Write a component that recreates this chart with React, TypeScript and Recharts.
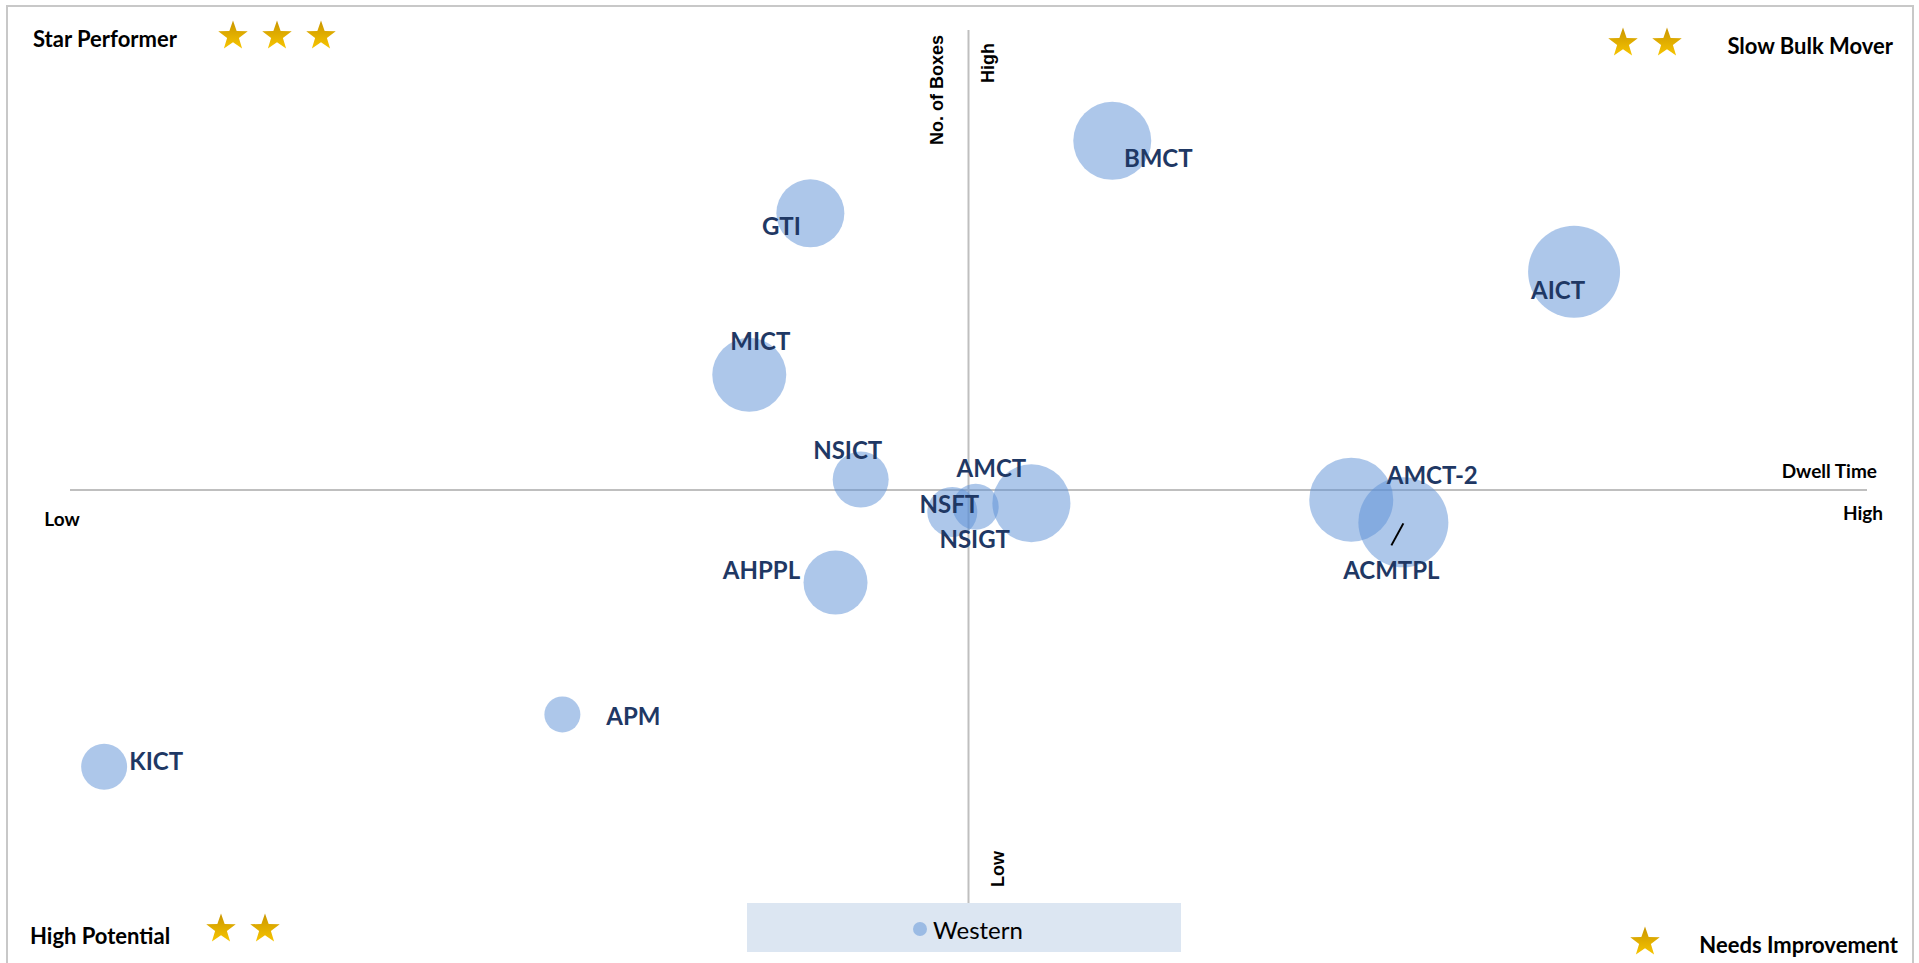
import { ScatterChart, Scatter, XAxis, YAxis, ZAxis, ReferenceLine, LabelList } from 'recharts';

const terminals = ['BMCT', 'GTI', 'AICT', 'MICT', 'NSICT', 'AMCT', 'NSFT', 'NSIGT', 'AMCT-2', 'ACMTPL', 'AHPPL', 'APM', 'KICT'];
const dwellTime = [58.0, 41.2, 83.7, 37.8, 44.0, 53.5, 49.1, 50.4, 71.3, 74.2, 42.6, 27.4, 1.9];
const boxCount = [87.3, 79.0, 72.3, 60.5, 48.5, 45.8, 44.8, 45.4, 46.2, 43.6, 36.7, 21.6, 15.6];
const volume = [1521, 1156, 2116, 1369, 784, 1521, 625, 529, 1764, 2025, 1024, 324, 529];

const crossX = 50;
const crossY = 47.3;

const quadrantNames = ['Star Performer', 'Slow Bulk Mover', 'High Potential', 'Needs Improvement'];
const quadrantStars = [3, 2, 2, 1];
const seriesName = 'Western';

const data = terminals.map((name, i) => ({ name, x: dwellTime[i], y: boxCount[i], z: volume[i] }));

// label placement relative to bubble centre
const labelOffset: Record<string, [number, number]> = {
  BMCT: [46, 17],
  GTI: [-29, 12],
  AICT: [-16, 18],
  MICT: [11, -34],
  NSICT: [-13, -30],
  AMCT: [-40, -36],
  NSFT: [-3, -8],
  NSIGT: [-1, 32],
  'AMCT-2': [81, -25],
  ACMTPL: [-12, 47],
  AHPPL: [-74, -13],
  APM: [71, 1],
  KICT: [52, -6],
};

const W = 1919;
const H = 963;

function starPoints(cx: number, cy: number, r: number) {
  const pts: string[] = [];
  for (let i = 0; i < 10; i++) {
    const rad = i % 2 === 0 ? r : r * 0.4;
    const a = -Math.PI / 2 + (i * Math.PI) / 5;
    pts.push(`${cx + rad * Math.cos(a)},${cy + rad * Math.sin(a)}`);
  }
  return pts.join(' ');
}

function Stars({ x, y, n }: { x: number; y: number; n: number }) {
  return (
    <>
      {Array.from({ length: n }).map((_, i) => (
        <polygon key={i} points={starPoints(x + i * 44, y, 15.5)} fill="url(#gold)" />
      ))}
    </>
  );
}

const renderLabel = (props: any) => {
  const vb = props.viewBox || props;
  const cx = vb.x + vb.width / 2;
  const cy = vb.y + vb.height / 2;
  const name = props.value as string;
  const [dx, dy] = labelOffset[name] || [0, 0];
  return (
    <g>
      {name === 'ACMTPL' && (
        <line x1={cx - 12} y1={cy + 23} x2={cx} y2={cy + 1} stroke="#000" strokeWidth={2} />
      )}
      <text
        x={cx + dx}
        y={cy + dy}
        textAnchor="middle"
        dominantBaseline="central"
        fill="#1F3864"
        style={{ fontFamily: 'Lato, sans-serif', fontWeight: 700, fontSize: 24 }}
      >
        {name}
      </text>
    </g>
  );
};

const quadFont = { fontFamily: 'Lato, sans-serif', fontWeight: 700, fontSize: 22, fill: '#000' };
const axisFont = { fontFamily: '"Liberation Sans", Arial, sans-serif', fontWeight: 700, fontSize: 18, fill: '#000' };
const endFont = { fontFamily: 'Lato, sans-serif', fontWeight: 700, fontSize: 19, fill: '#000' };

export default function App() {
  return (
    <div style={{ position: 'fixed', left: 0, top: 0, width: W, height: H, background: '#fff', overflow: 'hidden' }}>
      <ScatterChart width={W} height={H} margin={{ top: 30, right: 52, bottom: 60, left: 70 }}>
        <XAxis type="number" dataKey="x" domain={[0, 100]} hide />
        <YAxis type="number" dataKey="y" domain={[0, 100]} hide />
        <ZAxis type="number" dataKey="z" domain={[0, 2200]} range={[0, Math.PI * 2200]} />
        <ReferenceLine x={crossX} stroke="#BFBFBF" strokeWidth={2} />
        <ReferenceLine y={crossY} stroke="#BFBFBF" strokeWidth={2} />
        <Scatter
          name={seriesName}
          data={data}
          fill="#5B8FD6"
          fillOpacity={0.5}
          isAnimationActive={false}
        >
          <LabelList dataKey="name" content={renderLabel} />
        </Scatter>
      </ScatterChart>

      <svg width={W} height={H} style={{ position: 'absolute', left: 0, top: 0, pointerEvents: 'none' }}>
        <defs>
          <linearGradient id="gold" x1="0" y1="0" x2="0" y2="1">
            <stop offset="0%" stopColor="#C99500" />
            <stop offset="100%" stopColor="#F7C500" />
          </linearGradient>
        </defs>
        <rect x={7} y={6} width={1906} height={980} fill="none" stroke="#C8C8C8" strokeWidth={2} />

        <text x={33} y={38} dominantBaseline="central" style={quadFont}>{quadrantNames[0]}</text>
        <Stars x={233} y={36} n={quadrantStars[0]} />

        <text x={1893} y={45} textAnchor="end" dominantBaseline="central" style={quadFont}>{quadrantNames[1]}</text>
        <Stars x={1623} y={43} n={quadrantStars[1]} />

        <text x={30} y={935} dominantBaseline="central" style={quadFont}>{quadrantNames[2]}</text>
        <Stars x={221} y={929} n={quadrantStars[2]} />

        <text x={1898} y={944} textAnchor="end" dominantBaseline="central" style={quadFont}>{quadrantNames[3]}</text>
        <Stars x={1645} y={942} n={quadrantStars[3]} />

        <text x={937} y={90} textAnchor="middle" dominantBaseline="central" transform="rotate(-90 937 90)" style={axisFont}>No. of Boxes</text>
        <text x={988} y={63} textAnchor="middle" dominantBaseline="central" transform="rotate(-90 988 63)" style={axisFont}>High</text>
        <text x={998} y={869} textAnchor="middle" dominantBaseline="central" transform="rotate(-90 998 869)" style={axisFont}>Low</text>

        <text x={1877} y={470} textAnchor="end" dominantBaseline="central" style={endFont}>Dwell Time</text>
        <text x={1863} y={512} textAnchor="middle" dominantBaseline="central" style={endFont}>High</text>
        <text x={62} y={518} textAnchor="middle" dominantBaseline="central" style={endFont}>Low</text>

        <rect x={747} y={903} width={434} height={49} fill="#DCE6F2" />
        <circle cx={920} cy={929} r={7} fill="#9BBBE4" />
        <text x={933} y={929} dominantBaseline="central" style={{ fontFamily: 'Lato, sans-serif', fontSize: 24, fill: '#000' }}>{seriesName}</text>
      </svg>
    </div>
  );
}
